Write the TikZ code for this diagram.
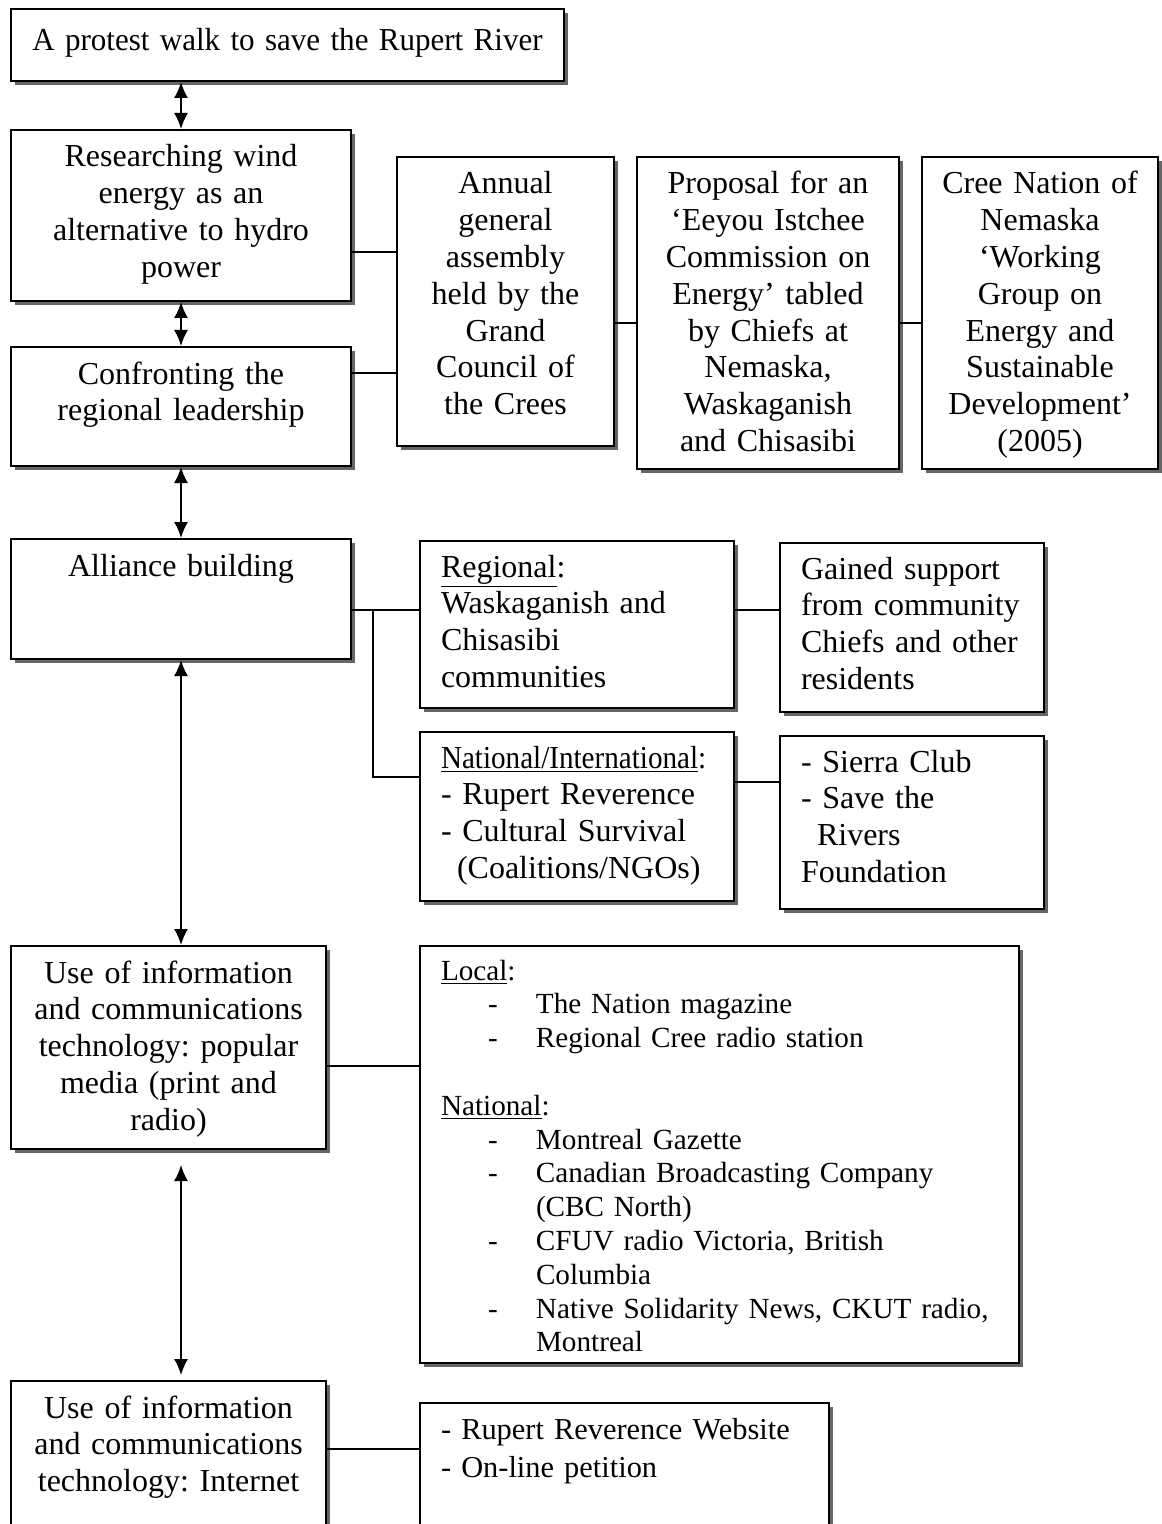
\documentclass[tikz,border=0pt]{standalone}
\usepackage{fontspec}
\setmainfont{Liberation Serif}
\usepackage{graphicx}
\usetikzlibrary{arrows.meta,shadows,calc}

\newcommand{\itm}[1]{\hspace*{23.5pt}\makebox[24pt][l]{-}#1}

\begin{document}
\frenchspacing
\begin{tikzpicture}[x=0.5pt, y=-0.5pt, % one unit = one pixel of the scan
    font=\fontsize{16}{18.4}\selectfont,
    box/.style={draw, fill=white, line width=1pt, anchor=north west,
      inner xsep=8pt, inner ysep=6pt, text height=12.5pt, align=center,
      drop shadow={shadow xshift=2pt, shadow yshift=-2pt, fill=black!60, opacity=1}},
    lbox/.style={box, align=left, inner xsep=10.5pt, text height=12pt},
    link/.style={line width=0.9pt},
    >={Latex[length=8pt,width=7pt]}]
    \useasboundingbox (0,0) rectangle (1161,1524);

    % Nodes
    \node[box, inner xsep=4pt, text width=268.5pt, text height=15pt, text depth=9pt] (walk) at (10,8) {\scalebox{0.97}[1]{A protest walk to save the Rupert River}};
    \node[box, text width=154pt, text depth=61pt] (research) at (10,129) {Researching wind\\ energy as an\\ alternative to hydro\\ power};
    \node[box, text width=154pt, text depth=35pt] (confront) at (10,346) {Confronting the\\ regional leadership};
    \node[box, text width=92.5pt, text depth=120pt] (annual) at (396,156) {Annual\\ general\\ assembly\\ held by the\\ Grand\\ Council of\\ the Crees};
    \node[box, text width=115pt, text depth=131.5pt] (proposal) at (636,156) {Proposal for an\\ ‘Eeyou Istchee\\ Commission on\\ Energy’ tabled\\ by Chiefs at\\ Nemaska,\\ Waskaganish\\ and Chisasibi};
    \node[box, text width=102pt, text depth=131.5pt] (cree) at (921,156) {Cree Nation of\\ Nemaska\\ ‘Working\\ Group on\\ Energy and\\ Sustainable\\ Development’\\ (2005)};

    \node[box, text width=154pt, text depth=35.5pt] (alliance) at (10,538) {Alliance building};
    \node[lbox, text width=136pt, text depth=59.5pt] (regional) at (419,540) {\underline{Regional}:\\ Waskaganish and\\ Chisasibi\\ communities};
    \node[lbox, text width=111pt, text depth=60.5pt] (support) at (779,542) {Gained support\\ from community\\ Chiefs and other\\ residents};
    \node[lbox, text width=136pt, text depth=60.5pt] (national) at (419,731) {\scalebox{0.91}[1]{\underline{National/International}:}\\ - Rupert Reverence\\ - Cultural Survival\\ \hspace*{8pt}(Coalitions/NGOs)};
    \node[lbox, text width=111pt, text depth=62.5pt] (ngos) at (779,735) {- Sierra Club\\ - Save the\\ \hspace*{8pt}Rivers\\ Foundation};

    \node[box, text width=141.5pt, text depth=77pt] (media) at (10,945) {Use of information\\ and communications\\ technology: popular\\ media (print and\\ radio)};
    \node[lbox, text width=278.5pt, text height=11pt, text depth=185.5pt, font=\fontsize{14.6}{16.9}\selectfont] (outlets) at (419,945) {\underline{Local}:\\
      \itm{The Nation magazine}\\
      \itm{Regional Cree radio station}\\[16.9pt]
      \underline{National}:\\
      \itm{Montreal Gazette}\\
      \itm{Canadian Broadcasting Company}\\
      \hspace*{47.5pt}(CBC North)\\
      \itm{CFUV radio Victoria, British}\\
      \hspace*{47.5pt}Columbia\\
      \itm{Native Solidarity News, CKUT radio,}\\
      \hspace*{47.5pt}Montreal};
    \node[box, text width=141.5pt, text depth=60.5pt] (internet) at (10,1380) {Use of information\\ and communications\\ technology: Internet};
    \node[lbox, text width=183.5pt, text depth=51pt, font=\fontsize{15.2}{19}\selectfont] (web) at (419,1402) {- Rupert Reverence Website\\ - On-line petition};

    % Levels of the joining lines
    \coordinate (lv1) at (0,252);
    \coordinate (lv2) at (0,373);
    \coordinate (lv3) at (0,323);
    \coordinate (lv4) at (0,610);
    \coordinate (lv5) at (0,777);
    \coordinate (lv6) at (0,782);
    \coordinate (lv7) at (0,1066);
    \coordinate (lv8) at (0,1449);

    % Edges
    \draw[<->, link] (research.north |- walk.south) -- (research.north);
    \draw[<->, link] (research.south) -- (confront.north);
    \draw[<->, link] (confront.south) -- (alliance.north);
    \draw[<->, link] (alliance.south) -- (alliance.south |- media.north);
    \draw[<->, link, shorten <=7.5pt, shorten >=2.5pt] (alliance.south |- media.south) -- (alliance.south |- internet.north);

    \draw[link] (research.east |- lv1) -- (annual.west |- lv1);
    \draw[link] (confront.east |- lv2) -- (annual.west |- lv2);
    \draw[link] (annual.east |- lv3) -- (proposal.west |- lv3);
    \draw[link] (proposal.east |- lv3) -- (cree.west |- lv3);
    \draw[link] (alliance.east |- lv4) -- (regional.west |- lv4);
    \draw[link] ($(alliance.east |- lv4)+(21,0)$) |- (national.west |- lv5);
    \draw[link] (regional.east |- lv4) -- (support.west |- lv4);
    \draw[link] (national.east |- lv6) -- (ngos.west |- lv6);
    \draw[link] (media.east |- lv7) -- (outlets.west |- lv7);
    \draw[link] (internet.east |- lv8) -- (web.west |- lv8);
\end{tikzpicture}
\end{document}
